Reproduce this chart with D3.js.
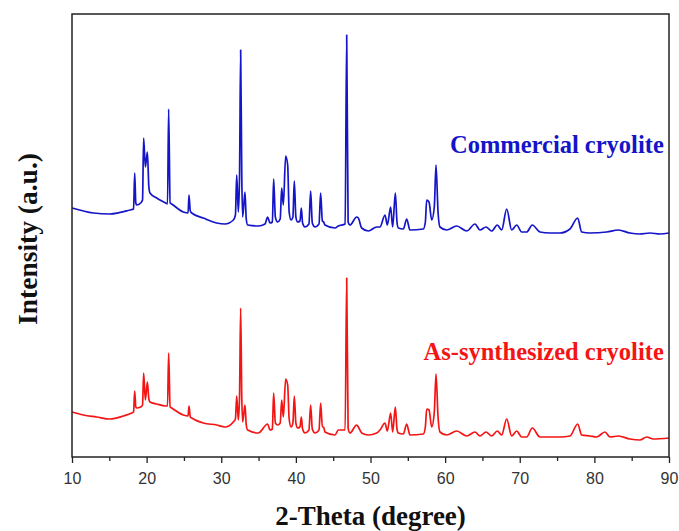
<!DOCTYPE html>
<html>
<head>
<meta charset="utf-8">
<script src="https://cdn.jsdelivr.net/npm/d3@7"></script>
<style>
  body { margin: 0; background: #fff; }
  .tick text { font-family: "Liberation Sans", Arial, sans-serif; }
</style>
</head>
<body>
<svg id="vis" width="679" height="531"></svg>
<script>
// XRD patterns, [2-theta, intensity (a.u.)]
const commercial = [
  [10, 249], [12.86, 244], [15.09, 243], [17.77, 247], [18.25, 248], [18.4, 284], [18.55, 254],
  [18.67, 252], [19.2, 254], [19.45, 257], [19.6, 319], [19.83, 290], [20.1, 305], [20.3, 270],
  [20.45, 264], [21.35, 259], [22.55, 254], [22.8, 253], [22.95, 348], [23.15, 254], [23.36, 253],
  [24.92, 245], [25.55, 244], [25.68, 262], [25.85, 246], [26.04, 244], [27.6, 239], [29.39, 234],
  [30.5, 233], [31.62, 237], [31.9, 242], [32.07, 282], [32.29, 245], [32.45, 280], [32.6, 407],
  [32.75, 280], [32.87, 240], [33.18, 265], [33.35, 238], [33.54, 232], [34.97, 231], [35.86, 233],
  [36.22, 240], [36.53, 234], [36.85, 235], [37.02, 278], [37.25, 240], [37.56, 235], [37.9, 238],
  [38.1, 269], [38.32, 252], [38.63, 301], [38.9, 292], [39.1, 245], [39.35, 237], [39.6, 240],
  [39.79, 276], [40.0, 240], [40.24, 235], [40.55, 236], [40.73, 249], [40.9, 234], [41.22, 230],
  [41.75, 233], [41.98, 266], [42.2, 234], [42.56, 230], [43.1, 233], [43.32, 264], [43.55, 236],
  [43.72, 235], [43.9, 232], [45.24, 229], [45.69, 231], [46.6, 233], [46.81, 422], [47.0, 235],
  [47.25, 232], [48.15, 240], [48.37, 239], [48.82, 229], [49.71, 226], [50.83, 230], [51.27, 230],
  [51.94, 242], [52.26, 232], [52.7, 250], [52.97, 230], [53.33, 264], [53.55, 235], [53.73, 229],
  [54.4, 228], [54.85, 238], [55.29, 227], [57.08, 228], [57.35, 235], [57.53, 257], [57.84, 255],
  [58.2, 237], [58.55, 250], [58.78, 292], [59.05, 245], [59.31, 230], [60.21, 227], [61.55, 231],
  [62.89, 226], [64.0, 233], [64.67, 227], [65.48, 230], [66.24, 226], [66.99, 232], [67.58, 227],
  [68.25, 248], [68.92, 227], [69.59, 232], [70.26, 225], [70.93, 225], [71.68, 232], [72.71, 225],
  [74.05, 224], [75.39, 224], [76.73, 228], [77.76, 239], [78.3, 225], [79.41, 224], [81.65, 225],
  [83.21, 227], [84.77, 224], [86.11, 223], [87.45, 224], [88.79, 223], [90, 224]
];

const synthesized = [
  [10, 45], [11.52, 42], [13.31, 40], [15.09, 38], [16.88, 41], [18.0, 44], [18.25, 45], [18.4, 66],
  [18.55, 50], [18.67, 49], [19.2, 50], [19.45, 52], [19.6, 84], [19.83, 57], [20.1, 75],
  [20.3, 58], [20.45, 55], [21.35, 53], [22.55, 51], [22.8, 51], [22.95, 104], [23.15, 50],
  [23.36, 49], [24.92, 42], [25.55, 41], [25.68, 51], [25.85, 40], [26.04, 39], [27.6, 34],
  [29.39, 32], [30.5, 30], [31.62, 35], [31.9, 38], [32.07, 61], [32.29, 37], [32.45, 60],
  [32.6, 149], [32.75, 60], [32.87, 35], [33.18, 52], [33.35, 32], [33.54, 27], [34.97, 24],
  [36.22, 33], [36.53, 27], [36.85, 28], [37.02, 64], [37.25, 34], [37.56, 32], [37.9, 34],
  [38.1, 57], [38.32, 40], [38.63, 78], [38.9, 72], [39.1, 38], [39.35, 30], [39.6, 34],
  [39.79, 61], [40.0, 34], [40.24, 29], [40.55, 30], [40.73, 40], [40.9, 28], [41.22, 24],
  [41.75, 27], [41.98, 52], [42.2, 28], [42.56, 24], [43.1, 27], [43.32, 54], [43.55, 30],
  [43.72, 30], [43.9, 25], [45.24, 22], [45.69, 27], [46.6, 27], [46.81, 179], [47.0, 29],
  [47.25, 24], [48.15, 32], [48.37, 30], [48.82, 24], [49.71, 22], [50.83, 24], [51.27, 27],
  [51.94, 34], [52.26, 26], [52.7, 44], [52.97, 25], [53.33, 50], [53.55, 28], [53.73, 24],
  [54.4, 23], [54.85, 33], [55.29, 22], [57.08, 23], [57.35, 30], [57.53, 48], [57.84, 47],
  [58.2, 30], [58.55, 45], [58.78, 83], [59.05, 40], [59.31, 25], [60.21, 22], [61.55, 26],
  [62.89, 21], [64.0, 25], [64.67, 21], [65.48, 25], [66.24, 21], [66.99, 26], [67.58, 22],
  [68.25, 38], [68.92, 21], [69.59, 26], [70.26, 20], [70.93, 20], [71.68, 29], [72.71, 20],
  [74.05, 20], [75.39, 20], [76.73, 21], [77.76, 33], [78.3, 22], [79.41, 21], [80.31, 20],
  [81.42, 25], [82.09, 20], [83.21, 21], [84.77, 18], [86.11, 17], [87.0, 20], [87.9, 18], [90, 19]
];

const xTicks = [10, 20, 30, 40, 50, 60, 70, 80, 90];
const xMinorTicks = [15, 25, 35, 45, 55, 65, 75, 85];

const margin = { top: 14, right: 10, bottom: 74, left: 72 };
const width = 679 - margin.left - margin.right;
const height = 531 - margin.top - margin.bottom;

const svg = d3.select('#vis');
const g = svg.append('g').attr('transform', `translate(${margin.left}, ${margin.top})`);

const x = d3.scaleLinear().domain([10, 90]).range([0, width]);
const y = d3.scaleLinear().domain([0, 443]).range([height, 0]);

const line = d3.line()
  .x((d) => x(d[0]))
  .y((d) => y(d[1]))
  .curve(d3.curveMonotoneX);

// Patterns
g.append('path')
  .datum(commercial)
  .attr('fill', 'none')
  .attr('stroke', '#1414c8')
  .attr('stroke-width', 1.7)
  .attr('stroke-linejoin', 'round')
  .attr('d', line);

g.append('path')
  .datum(synthesized)
  .attr('fill', 'none')
  .attr('stroke', '#f51414')
  .attr('stroke-width', 1.7)
  .attr('stroke-linejoin', 'round')
  .attr('d', line);

// Frame
g.append('rect')
  .attr('width', width)
  .attr('height', height)
  .attr('fill', 'none')
  .attr('stroke', '#222')
  .attr('stroke-width', 1.5);

// X axis, major and minor ticks
const xAxis = g.append('g')
  .attr('transform', `translate(0, ${height})`)
  .call(d3.axisBottom(x).tickValues(xTicks).tickSize(6).tickPadding(10));
xAxis.select('.domain').remove();
xAxis.selectAll('line').attr('stroke', '#222').attr('stroke-width', 1.3);
xAxis.selectAll('text')
  .attr('font-size', 16)
  .attr('fill', '#333');

g.append('g')
  .attr('transform', `translate(0, ${height})`)
  .call(d3.axisBottom(x).tickValues(xMinorTicks).tickSize(4).tickFormat(''))
  .call((a) => a.select('.domain').remove())
  .selectAll('line').attr('stroke', '#222').attr('stroke-width', 1.3);

// Axis titles
svg.append('text')
  .attr('x', margin.left + width / 2)
  .attr('y', 525)
  .attr('text-anchor', 'middle')
  .attr('font-family', '"Liberation Serif", "Times New Roman", serif')
  .attr('font-weight', 'bold')
  .attr('font-size', 27)
  .attr('fill', '#111')
  .text('2-Theta (degree)');

svg.append('text')
  .attr('transform', 'rotate(-90)')
  .attr('x', -239)
  .attr('y', 37)
  .attr('text-anchor', 'middle')
  .attr('font-family', '"Liberation Serif", "Times New Roman", serif')
  .attr('font-weight', 'bold')
  .attr('font-size', 27.5)
  .attr('fill', '#111')
  .text('Intensity (a.u.)');

// Series labels
g.append('text')
  .attr('x', x(89.3))
  .attr('y', y(304))
  .attr('text-anchor', 'end')
  .attr('font-family', '"Liberation Serif", "Times New Roman", serif')
  .attr('font-weight', 'bold')
  .attr('font-size', 24.5)
  .attr('fill', '#1414c8')
  .text('Commercial cryolite');

g.append('text')
  .attr('x', x(89.3))
  .attr('y', y(97))
  .attr('text-anchor', 'end')
  .attr('font-family', '"Liberation Serif", "Times New Roman", serif')
  .attr('font-weight', 'bold')
  .attr('font-size', 24.5)
  .attr('fill', '#f51414')
  .text('As-synthesized cryolite');
</script>
</body>
</html>
